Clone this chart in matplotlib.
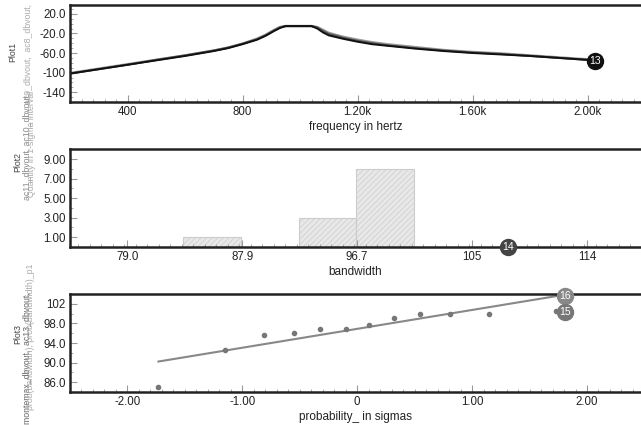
import matplotlib
matplotlib.use("Agg")
import matplotlib.pyplot as plt
from matplotlib.ticker import FixedLocator, MultipleLocator

plt.rcParams['font.family'] = ['Liberation Sans', 'DejaVu Sans']
plt.rcParams['hatch.linewidth'] = 0.5

# ---------------- data ----------------
freq = [200, 300, 400, 500, 600, 650, 700, 750, 800, 850, 880, 910, 930, 950,
        1040, 1060, 1080, 1100, 1150, 1200, 1250, 1300, 1400, 1500, 1600, 1700,
        1800, 1900, 2000]
db_ac7 = [-102, -93, -84, -75, -66, -61, -56, -50, -42, -33, -25, -15, -9, -5,
          -5, -10, -18, -24, -31, -37, -42, -45, -51, -56, -60, -63, -66, -70, -74]
db_ac8 = [-101, -92, -83, -74, -65, -60, -55, -49, -41, -31, -23, -13, -7, -5,
          -5, -7, -13, -19, -27, -33, -38, -42, -48, -54, -58, -61, -65, -69, -73]
db_ac9 = [-102, -93, -84, -74, -65, -60, -55, -49, -41, -32, -24, -14, -8, -5,
          -5, -8, -15, -21, -29, -35, -40, -44, -50, -55, -59, -62, -66, -70, -74]
marker13 = (2025, -76)

freq_ticks = [400, 800, 1200, 1600, 2000]
freq_labels = ["400", "800", "1.20k", "1.60k", "2.00k"]
db_ticks = [20, -20, -60, -100, -140]
db_labels = ["20.0", "-20.0", "-60.0", "-100", "-140"]

bin_left = [83.3, 87.75, 92.2, 96.6]
bin_width = 4.45
bin_counts = [1, 0, 3, 8]
marker14 = (108.3, 0)
bw_ticks = [79.0, 87.85, 96.7, 105.55, 114.4]
bw_labels = ["79.0", "87.9", "96.7", "105", "114"]
cnt_ticks = [1, 3, 5, 7, 9]
cnt_labels = ["1.00", "3.00", "5.00", "7.00", "9.00"]

sigmas = [-1.73, -1.15, -0.81, -0.55, -0.32, -0.10, 0.10, 0.32, 0.55, 0.81, 1.15, 1.73]
bw_sorted = [84.9, 92.6, 95.7, 96.1, 96.8, 96.9, 97.6, 99.2, 99.85, 99.85, 99.85, 100.5]
fit_x = [-1.73, 1.78]
fit_y = [90.2, 103.8]
marker15 = (1.81, 100.3)
marker16 = (1.81, 103.6)
sig_ticks = [-2, -1, 0, 1, 2]
sig_labels = ["-2.00", "-1.00", "0", "1.00", "2.00"]
p3_ticks = [86, 90, 94, 98, 102]
p3_labels = ["86.0", "90.0", "94.0", "98.0", "102"]

# ---------------- figure ----------------
W, H = 641, 425
fig = plt.figure(figsize=(W / 100, H / 100), dpi=100)

def ax_at(top_px, bot_px):
    return fig.add_axes([70 / W, 1 - bot_px / H, 1 - 70 / W, (bot_px - top_px) / H])

def style(ax, xt, xl, yt, yl, xminor, yminor):
    for s in ['top', 'left', 'bottom']:
        ax.spines[s].set_linewidth(1.8)
        ax.spines[s].set_color('#222222')
    ax.spines['right'].set_visible(False)
    ax.xaxis.set_major_locator(FixedLocator(xt))
    ax.set_xticklabels(xl)
    ax.yaxis.set_major_locator(FixedLocator(yt))
    ax.set_yticklabels(yl)
    ax.xaxis.set_minor_locator(MultipleLocator(xminor))
    ax.yaxis.set_minor_locator(MultipleLocator(yminor))
    ax.tick_params(which='both', direction='in', color='#999999', labelsize=8.3,
                   labelcolor='#222222', top=False, right=False)
    ax.tick_params(which='major', length=5, width=0.8, pad=3)
    ax.tick_params(which='minor', length=2.5, width=0.6)

def badge(ax, x, y, txt, color):
    ax.plot([x], [y], 'o', ms=11.5, color=color, clip_on=False, zorder=10)
    ax.text(x, y, txt, color='white', fontsize=7.5, ha='center', va='center',
            zorder=11, clip_on=False)

# Plot1
ax1 = ax_at(5, 102)
ax1.plot(freq, db_ac8, color='#9a9a9a', lw=1.8)
ax1.plot(freq, db_ac9, color='#555555', lw=1.5)
ax1.plot(freq, db_ac7, color='#111111', lw=1.4)
ax1.set_xlim(200, 2186)
ax1.set_ylim(-160, 38)
style(ax1, freq_ticks, freq_labels, db_ticks, db_labels, 40, 10)
ax1.set_xlabel("frequency in hertz", fontsize=8.5, labelpad=2, color='#222222')
badge(ax1, *marker13, "13", '#111111')

# Plot2
ax2 = ax_at(149, 247)
ax2.bar(bin_left, bin_counts, width=bin_width, align='edge', color='#e8e8e8',
        edgecolor='#cccccc', linewidth=0.8, hatch='//////')
ax2.set_xlim(74.6, 118.55)
ax2.set_ylim(0, 10.05)
style(ax2, bw_ticks, bw_labels, cnt_ticks, cnt_labels, 0.885, 1)
ax2.set_xlabel("bandwidth", fontsize=8.5, labelpad=2, color='#222222')
badge(ax2, *marker14, "14", '#444444')

# Plot3
ax3 = ax_at(294, 392)
ax3.plot(fit_x, fit_y, color='#888888', lw=1.5)
ax3.plot(sigmas, bw_sorted, 'o', color='#777777', ms=3)
ax3.set_xlim(-2.5, 2.47)
ax3.set_ylim(83.95, 104.05)
style(ax3, sig_ticks, sig_labels, p3_ticks, p3_labels, 0.1, 2)
ax3.set_xlabel("probability_ in sigmas", fontsize=8.5, labelpad=2, color='#222222')
badge(ax3, *marker16, "16", '#888888')
badge(ax3, *marker15, "15", '#777777')

# y-axis label columns
def vtext(xpx, ypx, s, color, size=6.3, va='bottom'):
    fig.text(xpx / W, 1 - ypx / H, s, rotation=90, ha='center', va=va,
             color=color, fontsize=size)

vtext(13, 52, "Plot1", '#444444', va='center')
vtext(28, 104, "ac9_dbvout,  ac8_dbvout,", '#aaaaaa')
vtext(18, 162, "Plot2", '#444444', va='center')
vtext(27, 200, "ac11_dbvout, ac10_dbvout,", '#888888')
vtext(32, 197, "Quantity in 1-sigma interval", '#aaaaaa')
vtext(18, 334, "Plot3", '#444444', va='center')
vtext(27, 424, "montemax_dbvout,  ac13_dbvout,", '#666666')
vtext(31, 410, "prob(bandwidth), prob(bandwidth)_p1", '#aaaaaa')

fig.savefig("out.png", dpi=100)
